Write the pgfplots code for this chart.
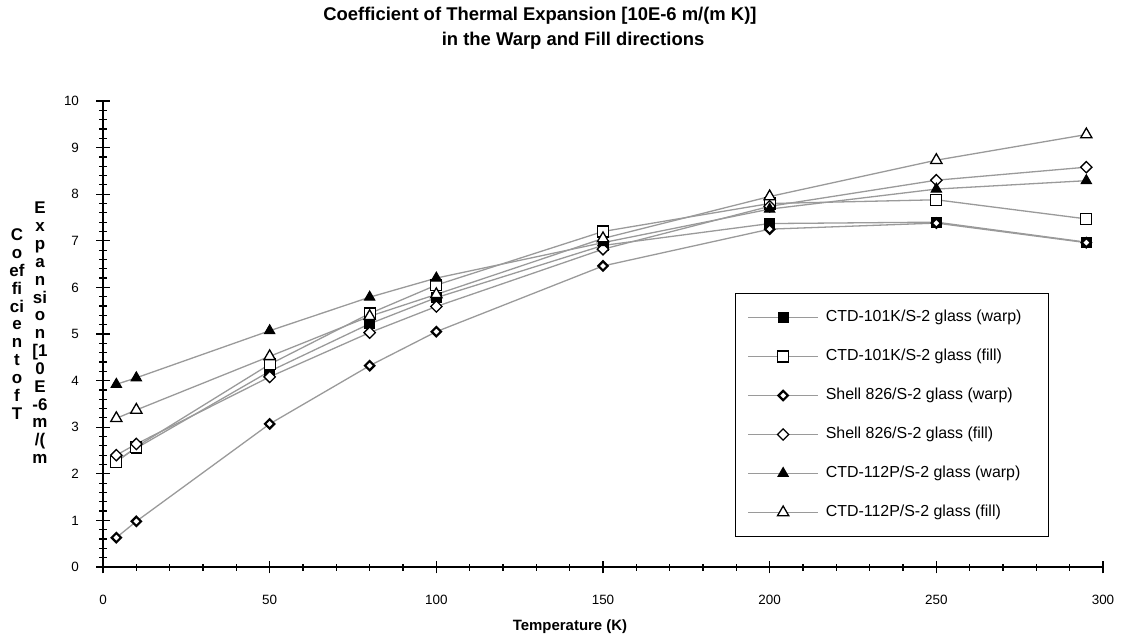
\documentclass[border=0pt]{standalone}
\usepackage{fontspec}
\setmainfont{Liberation Sans}
\usepackage{pgfplots}
\pgfplotsset{compat=1.18}
\usepackage{pgfplotstable}
\pgfplotstableread{
T   s1   s2   s3   s4   s5   s6
4   2.28 2.25 0.63 2.40 3.92 3.19
10  2.55 2.58 0.98 2.64 4.06 3.37
50  4.20 4.35 3.07 4.08 5.07 4.52
80  5.22 5.44 4.32 5.03 5.79 5.38
100 5.78 6.05 5.05 5.59 6.20 5.85
150 6.90 7.20 6.46 6.82 6.96 7.05
200 7.37 7.80 7.25 7.74 7.68 7.95
250 7.40 7.88 7.38 8.30 8.11 8.73
295 6.97 7.47 6.96 8.58 8.29 9.28
}\data
\definecolor{ln}{HTML}{9A9A9A}
\newcommand\lt[1]{\hspace*{5bp}#1}
\begin{document}
\begin{tikzpicture}
\begin{axis}[at={(0,0)}, anchor=south west, scale only axis,
  width=1000bp, height=466bp,
  xmin=0, xmax=300, ymin=0, ymax=10,
  axis lines*=left,
  axis line style={line width=1.3bp, black},
  xtick={0,50,...,300}, ytick={0,1,...,10},
  minor x tick num=4, minor y tick num=4,
  tick align=center, major tick length=13bp, minor tick length=7bp,
  every tick/.style={black, line width=1.2bp},
  clip=false,
  /pgf/number format/assume math mode=true,
  tick label style={font=\fontsize{13.5}{13.5}\selectfont},
  xticklabel style={yshift=-18bp},
  yticklabel style={xshift=-14bp},
  every axis plot/.append style={color=ln, line width=1.3bp},
  legend style={at={(0.632,0.588)}, anchor=north west, draw=black, line width=1bp,
    font=\fontsize{16}{16}\selectfont, row sep=24bp, inner xsep=12bp, inner ysep=16.5bp,
    nodes={inner ysep=0pt, text height=12bp, text depth=3bp}},
  legend cell align=left,
  legend image code/.code={\draw[mark repeat=2, mark phase=2] plot coordinates {(0bp,0bp) (35bp,0bp) (70bp,0bp)};},
]
\addplot[mark=square*, mark size=5bp, mark options={fill=black, draw=black, line width=1bp}] table[x=T,y=s1]{\data};
\addlegendentry{\makebox[214bp][l]{\lt{CTD-101K/S-2 glass (warp)}}}
\addplot[mark=square*, mark size=5.5bp, mark options={fill=white, draw=black, line width=1.3bp}] table[x=T,y=s2]{\data};
\addlegendentry{\lt{CTD-101K/S-2 glass (fill)}}
\addplot[mark=square*, mark size=3.3bp, mark options={rotate=45, fill=white, draw=black, line width=2.2bp}] table[x=T,y=s3]{\data};
\addlegendentry{\lt{Shell 826/S-2 glass (warp)}}
\addplot[mark=square*, mark size=4bp, mark options={rotate=45, fill=white, draw=black, line width=1.3bp}] table[x=T,y=s4]{\data};
\addlegendentry{\lt{Shell 826/S-2 glass (fill)}}
\addplot[mark=triangle*, mark size=6bp, mark options={fill=black, draw=black, line width=1bp}] table[x=T,y=s5]{\data};
\addlegendentry{\lt{CTD-112P/S-2 glass (warp)}}
\addplot[mark=triangle*, mark size=6.5bp, mark options={fill=white, draw=black, line width=1.3bp}] table[x=T,y=s6]{\data};
\addlegendentry{\lt{CTD-112P/S-2 glass (fill)}}
\end{axis}
\node[font=\bfseries\fontsize{18.5}{18.5}\selectfont] at (437bp,551bp) {Coefficient of Thermal Expansion [10E-6 m/(m K)]};
\node[font=\bfseries\fontsize{18.5}{18.5}\selectfont] at (470bp,526bp) {in the Warp and Fill directions};
\node[font=\bfseries\fontsize{15}{15}\selectfont] at (467bp,-60bp) {Temperature (K)};
\node[font=\bfseries\fontsize{17}{17.9}\selectfont, align=center] at (-86bp,243bp) {C\\o\\ef\\fi\\ci\\e\\n\\t\\o\\f\\T};
\node[font=\bfseries\fontsize{17}{17.9}\selectfont, align=center] at (-63bp,234bp) {E\\x\\p\\a\\n\\si\\o\\n\\{[}1\\0\\E\\{-}6\\m\\/(\\m};
\useasboundingbox (-103bp,-72bp) rectangle (1018bp,567bp);
\end{tikzpicture}
\end{document}
